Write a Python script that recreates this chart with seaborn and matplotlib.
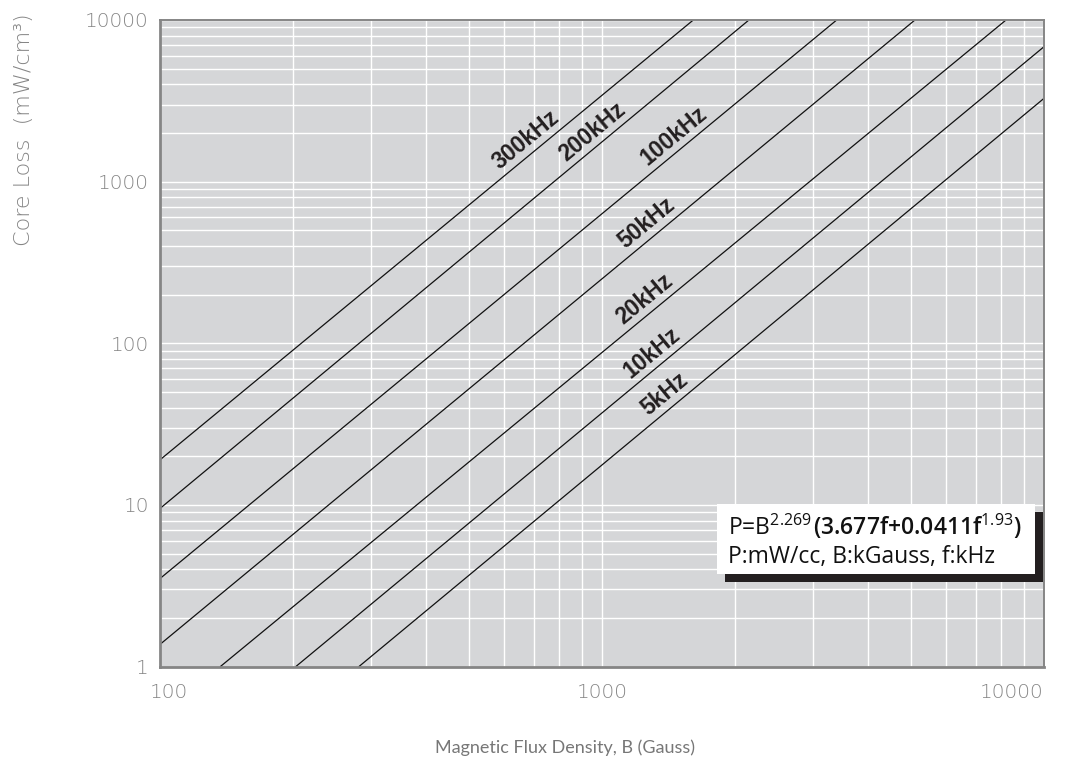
import numpy as np
import pandas as pd
import matplotlib
matplotlib.use("Agg")
import matplotlib.pyplot as plt
import seaborn as sns
from matplotlib.patches import Rectangle
from matplotlib.ticker import LogLocator, NullFormatter
import matplotlib.transforms as mtransforms

# ---- data (line end points) ----
freq_labels = ["300kHz", "200kHz", "100kHz", "50kHz", "20kHz", "10kHz", "5kHz"]
b_start = [100, 100, 100, 100, 137, 203, 282]          # Gauss
p_start = [19.0, 9.5, 3.5, 1.37, 1.0, 1.0, 1.0]       # mW/cm3
b_end = [1609, 2150, 3396, 5105, 8205, 10000, 10000]  # Gauss
p_end = [10000, 10000, 10000, 10000, 10000, 6835, 3275]
label_b = [705, 995, 1525, 1325, 1310, 1360, 1455]    # where each label sits along its line

x_ticks = [100, 1000, 10000]
x_tick_labels = ["100", "1000", "10000"]
y_ticks = [1, 10, 100, 1000, 10000]
y_tick_labels = ["1", "10", "100", "1000", "10000"]

formula_a = r"P=B$^{2.269}$"
formula_b = r"(3.677f+0.0411f$^{1.93}$)"
units_text = "P:mW/cc, B:kGauss, f:kHz"

sns.set_style("white")
plt.rcParams["font.family"] = ["DejaVu Sans"]
plt.rcParams["mathtext.fontset"] = "custom"
plt.rcParams["mathtext.rm"] = "Open Sans"
plt.rcParams["mathtext.it"] = "Open Sans"
plt.rcParams["mathtext.bf"] = "Open Sans:bold"

rows = []
for name, b0, p0, b1, p1 in zip(freq_labels, b_start, p_start, b_end, p_end):
    rows.append({"freq": name, "B": b0, "P": p0})
    rows.append({"freq": name, "B": b1, "P": p1})
df = pd.DataFrame(rows)

W, H = 1066, 762
fig = plt.figure(figsize=(W / 100, H / 100), dpi=100)
ax_l, ax_r, ax_t, ax_b = 160, 1044, 20, 666.5
ax = fig.add_axes([ax_l / W, 1 - ax_b / H, (ax_r - ax_l) / W, (ax_b - ax_t) / H])
ax.set_facecolor("#d5d6d8")
ax.set_xscale("log")
ax.set_yscale("log")
ax.set_xlim(100, 10000)
ax.set_ylim(1, 10000)

sns.lineplot(data=df, x="B", y="P", units="freq", estimator=None, sort=False,
             color="#111111", lw=0.9, ax=ax, legend=False)

ax.set_xlim(100, 10000)
ax.set_ylim(1, 10000)
ax.set_xticks(x_ticks, labels=x_tick_labels)
ax.set_yticks(y_ticks, labels=y_tick_labels)
ax.xaxis.set_minor_locator(LogLocator(base=10, subs=np.arange(2, 10)))
ax.yaxis.set_minor_locator(LogLocator(base=10, subs=np.arange(2, 10)))
ax.xaxis.set_minor_formatter(NullFormatter())
ax.yaxis.set_minor_formatter(NullFormatter())
ax.grid(True, which="both", color="white", lw=1.0)
ax.set_axisbelow(True)
ax.tick_params(which="both", length=0)
ax.tick_params(axis="x", pad=12, labelsize=14.5, labelcolor="#858585")
ax.tick_params(axis="y", pad=8, labelsize=14.5, labelcolor="#858585")
for lab in ax.get_xticklabels() + ax.get_yticklabels():
    lab.set_fontweight("light")

xl = ax.get_xticklabels()
xl[-1].set_horizontalalignment("right")
xl[0].set_transform(xl[0].get_transform() + mtransforms.ScaledTranslation(9 / 100, 0, fig.dpi_scale_trans))

for side, lw in [("left", 2.0), ("bottom", 2.0), ("top", 1.4), ("right", 1.4)]:
    ax.spines[side].set_visible(True)
    ax.spines[side].set_color("#858585")
    ax.spines[side].set_linewidth(lw)

ax.set_ylabel("Core Loss  (mW/cm³)", fontsize=16, color="#858585", fontweight="light")
ax.yaxis.set_label_coords(-0.142, 0.83)
ax.set_xlabel("Magnetic Flux Density, B (Gauss)", fontsize=13, color="#777777", family="Lato")
ax.xaxis.set_label_coords(0.458, -0.113)

# line labels
for name, bl, b0, p0, b1, p1 in zip(freq_labels, label_b, b_start, p_start, b_end, p_end):
    t = (np.log(bl) - np.log(b0)) / (np.log(b1) - np.log(b0))
    pl = np.exp(np.log(p0) + t * (np.log(p1) - np.log(p0)))
    d0 = ax.transData.transform((b0, p0))
    d1 = ax.transData.transform((b1, p1))
    ang = np.arctan2(d1[1] - d0[1], d1[0] - d0[0])
    off = 5.5
    ax.annotate(name, (bl, pl), xytext=(-np.sin(ang) * off, np.cos(ang) * off),
                textcoords="offset points", rotation=np.degrees(ang), rotation_mode="anchor",
                ha="center", va="baseline", fontsize=16.5, fontweight="bold",
                family="Liberation Sans", color="#231f20", zorder=4)

# formula box with shadow
fig.add_artist(Rectangle((725 / W, 1 - 582 / H), (1043 - 725) / W, (582 - 512) / H,
                         transform=fig.transFigure, facecolor="#231f20", edgecolor="none", zorder=5))
fig.add_artist(Rectangle((717 / W, 1 - 574 / H), (1035 - 717) / W, (574 - 504) / H,
                         transform=fig.transFigure, facecolor="white", edgecolor="none", zorder=6))
ta = fig.text(728 / W, 1 - 535 / H, formula_a, fontsize=16.5, family="Open Sans",
              color="#111111", va="baseline", zorder=7)
fig.canvas.draw()
bb = ta.get_window_extent()
fig.text(bb.x1 / W + 1 / W, 1 - 535 / H, formula_b, fontsize=16.5, family="Open Sans",
         fontweight="semibold", color="#111111", va="baseline", zorder=7)
fig.text(728 / W, 1 - 563 / H, units_text, fontsize=16.5, family="Open Sans",
         color="#111111", va="baseline", zorder=7)

fig.savefig("out.png", dpi=100)
